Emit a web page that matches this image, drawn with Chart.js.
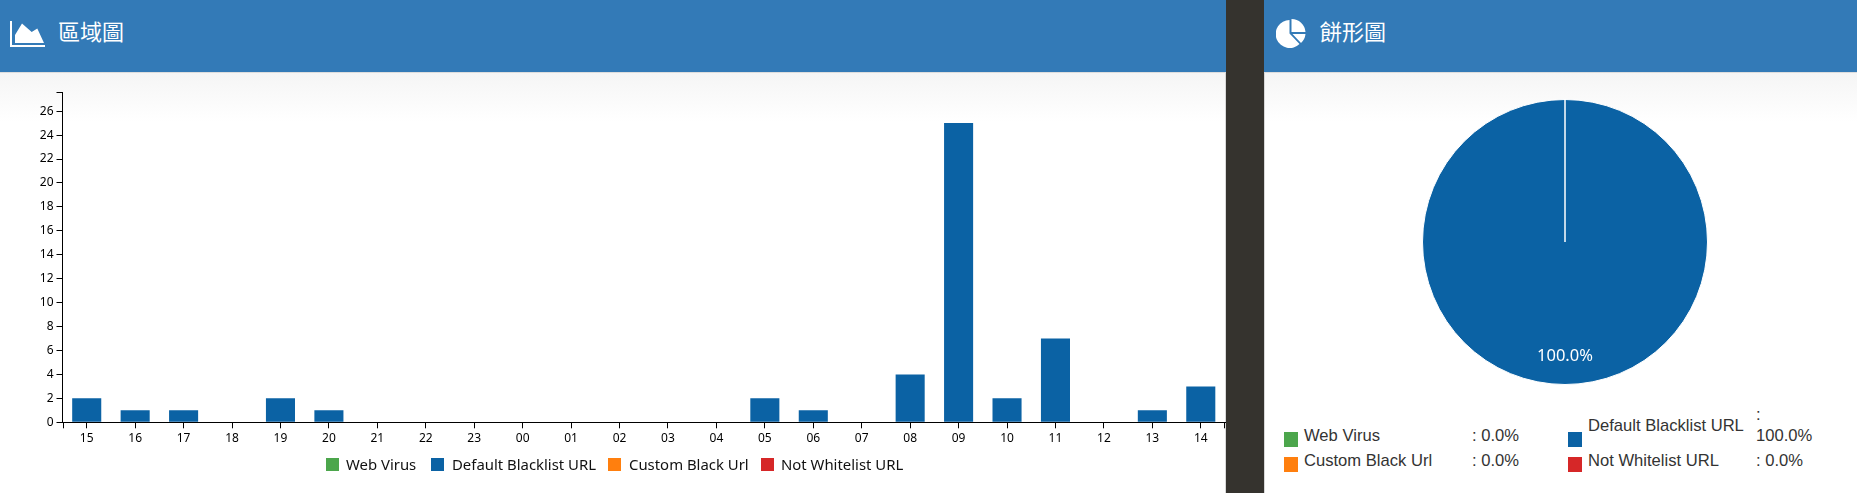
<!DOCTYPE html>
<html>
<head>
<meta charset="utf-8">
<script src="https://cdn.jsdelivr.net/npm/chart.js@4"></script>
<style>
  html, body { margin: 0; padding: 0; background: #fff; overflow: hidden; }
  #page { position: relative; width: 1857px; height: 493px; }
  .fade { position: absolute; top: 72px; height: 50px; background: linear-gradient(#f5f5f5, #fff); }
  .head { position: absolute; top: 0; height: 72px; background: #337ab7; border-bottom: 1px solid #ddd; color: #fff;
          font: 22px "Noto Sans CJK TC", sans-serif; }
  .head span { position: absolute; top: 14px; line-height: 32px; }
  .head svg { position: absolute; }
  #divider { position: absolute; left: 1226px; top: 0; width: 38px; height: 493px; background: #35332e; }
  .edge { position: absolute; top: 73px; width: 1px; height: 420px; background: #d8d8d8; }
  canvas { position: absolute; }
  .sw { position: absolute; }
  .lg { position: absolute; white-space: nowrap; line-height: 20px; }
  #barLegend .lg { font-family: "Noto Sans", sans-serif; font-size: 14.9px; color: #111; }
  #pieLegend .lg { font-family: "Liberation Sans", sans-serif; font-size: 16.6px; color: #333; }
</style>
</head>
<body>
<div id="page">
  <div class="fade" style="left:0;width:1226px"></div>
  <div class="fade" style="left:1264px;width:593px"></div>
  <div class="head" style="left:0;width:1226px">
    <svg style="left:10px;top:21px" width="36" height="27" viewBox="0 0 36 27">
      <path d="M0 0h2v24h33v2H0z M5 22V14L12 2.5 21.7 11 27.3 7.5 34 22z" fill="#fff"/>
    </svg>
    <span style="left:58px">區域圖</span>
  </div>
  <div class="head" style="left:1264px;width:593px">
    <svg style="left:12px;top:19px" width="30" height="29" viewBox="0 0 30 29">
      <path d="M13.5 1A14 14 0 1 0 23.5 25L13.5 14.5z M15.5 0A14 14 0 0 1 29.5 13H15.5z M16.5 15H29.5A14 14 0 0 1 25 24z" fill="#fff"/>
    </svg>
    <span style="left:56px">餅形圖</span>
  </div>
  <div id="divider"></div>
  <div class="edge" style="left:1225px"></div>
  <div class="edge" style="left:1264px"></div>
  <canvas id="bar_chart" width="1226" height="493" style="left:0;top:0"></canvas>
  <canvas id="pie_chart" width="286" height="286" style="left:1422px;top:99px"></canvas>
  <div id="barLegend"></div>
  <div id="pieLegend"></div>
</div>

<script>
const hours = ['15','16','17','18','19','20','21','22','23','00','01','02','03','04','05','06','07','08','09','10','11','12','13','14'];
const webVirus = [0,0,0,0,0,0,0,0,0,0,0,0,0,0,0,0,0,0,0,0,0,0,0,0];
const defaultBlacklist = [2,1,1,0,2,1,0,0,0,0,0,0,0,0,2,1,0,4,25,2,7,0,1,3];
const customBlack = [0,0,0,0,0,0,0,0,0,0,0,0,0,0,0,0,0,0,0,0,0,0,0,0];
const notWhitelist = [0,0,0,0,0,0,0,0,0,0,0,0,0,0,0,0,0,0,0,0,0,0,0,0];

const seriesNames = ['Web Virus','Default Blacklist URL','Custom Black Url','Not Whitelist URL'];
const seriesColors = ['#4ca64c','#0b62a4','#ff7f0e','#d62728'];
const pieShares = [0.0, 100.0, 0.0, 0.0];

const yTicks = [0,2,4,6,8,10,12,14,16,18,20,22,24,26];
const yMax = 27.6;

// d3 style end ticks at the ends of both axes
const outerTicks = {
  id: 'outerTicks',
  afterDraw(chart) {
    const c = chart.ctx, a = chart.chartArea;
    c.save();
    c.strokeStyle = '#000';
    c.lineWidth = 1;
    c.beginPath();
    c.moveTo(a.left - 6, Math.round(a.top) + 0.5);
    c.lineTo(a.left, Math.round(a.top) + 0.5);
    c.moveTo(Math.round(a.left) + 0.5, a.bottom);
    c.lineTo(Math.round(a.left) + 0.5, a.bottom + 6);
    c.moveTo(Math.round(a.right) - 0.5, a.bottom);
    c.lineTo(Math.round(a.right) - 0.5, a.bottom + 6);
    c.stroke();
    c.restore();
  }
};

new Chart(document.getElementById('bar_chart'), {
  type: 'bar',
  plugins: [outerTicks],
  data: {
    labels: hours,
    datasets: [
      { label: seriesNames[0], data: webVirus, backgroundColor: seriesColors[0] },
      { label: seriesNames[1], data: defaultBlacklist, backgroundColor: seriesColors[1] },
      { label: seriesNames[2], data: customBlack, backgroundColor: seriesColors[2] },
      { label: seriesNames[3], data: notWhitelist, backgroundColor: seriesColors[3] }
    ]
  },
  options: {
    responsive: false,
    animation: false,
    layout: { padding: { top: 92, right: 1, left: 0, bottom: 0 } },
    plugins: { legend: { display: false }, tooltip: { enabled: false } },
    datasets: { bar: { barPercentage: 0.6, categoryPercentage: 1 } },
    scales: {
      x: {
        stacked: true,
        afterFit(s) { s.height = 70.7; },
        border: { color: '#000', width: 1 },
        grid: { offset: false, drawOnChartArea: false, color: '#000', tickLength: 6 },
        ticks: { color: '#000', padding: 3, maxRotation: 0, autoSkip: false, font: { family: 'Noto Sans', size: 12 } }
      },
      y: {
        stacked: true,
        min: 0,
        max: yMax,
        afterFit(s) { s.width = 62.5; },
        afterBuildTicks(s) { s.ticks = yTicks.map(v => ({ value: v })); },
        border: { color: '#000', width: 1 },
        grid: { drawOnChartArea: false, color: '#000', tickLength: 6 },
        ticks: { color: '#000', padding: 3, font: { family: 'Noto Sans', size: 12 } }
      }
    }
  }
});

// label of the biggest slice, inside the pie
const pieLabel = {
  id: 'pieLabel',
  afterDraw(chart) {
    const c = chart.ctx;
    chart.getDatasetMeta(0).data.forEach((arc, i) => {
      if (!pieShares[i]) return;
      const mid = (arc.startAngle + arc.endAngle) / 2;
      const r = arc.outerRadius * 0.804;
      c.save();
      c.fillStyle = '#fff';
      c.font = '16.5px "Noto Sans"';
      c.textAlign = 'center';
      c.textBaseline = 'middle';
      c.fillText(pieShares[i].toFixed(1) + '%', arc.x + Math.cos(mid) * r, arc.y + Math.sin(mid) * r);
      c.restore();
    });
  }
};

new Chart(document.getElementById('pie_chart'), {
  type: 'pie',
  plugins: [pieLabel],
  data: {
    labels: seriesNames,
    datasets: [{ data: pieShares, backgroundColor: seriesColors, borderColor: '#fff', borderWidth: 1 }]
  },
  options: {
    responsive: false,
    animation: false,
    plugins: { legend: { display: false }, tooltip: { enabled: false } }
  }
});

// html legends, the original page has them outside the charts
function addItem(box, sx, sy, w, h, name, tx, ty) {
  const sw = document.createElement('div');
  sw.className = 'sw';
  sw.style.cssText = `left:${sx}px;top:${sy}px;width:${w}px;height:${h}px;background:${seriesColors[name]}`;
  box.appendChild(sw);
  const t = document.createElement('div');
  t.className = 'lg';
  t.style.cssText = `left:${tx}px;top:${ty}px`;
  t.textContent = seriesNames[name];
  box.appendChild(t);
}
function addText(box, text, x, y) {
  const t = document.createElement('div');
  t.className = 'lg';
  t.style.cssText = `left:${x}px;top:${y}px`;
  t.textContent = text;
  box.appendChild(t);
}

const barLegend = document.getElementById('barLegend');
addItem(barLegend, 326, 458, 13, 13, 0, 346, 454);
addItem(barLegend, 431, 458, 13, 13, 1, 452, 454);
addItem(barLegend, 608, 458, 13, 13, 2, 629, 454);
addItem(barLegend, 761, 458, 13, 13, 3, 781, 454);

const pieLegend = document.getElementById('pieLegend');
addItem(pieLegend, 1284, 432, 14, 15, 0, 1304, 426);
addItem(pieLegend, 1284, 457, 14, 15, 2, 1304, 451);
addItem(pieLegend, 1568, 432, 14, 15, 1, 1588, 416);
addItem(pieLegend, 1568, 457, 14, 15, 3, 1588, 451);
addText(pieLegend, ': ' + pieShares[0].toFixed(1) + '%', 1472, 426);
addText(pieLegend, ': ' + pieShares[2].toFixed(1) + '%', 1472, 451);
addText(pieLegend, ':', 1756, 405);
addText(pieLegend, pieShares[1].toFixed(1) + '%', 1756, 426);
addText(pieLegend, ': ' + pieShares[3].toFixed(1) + '%', 1756, 451);
</script>
</body>
</html>
